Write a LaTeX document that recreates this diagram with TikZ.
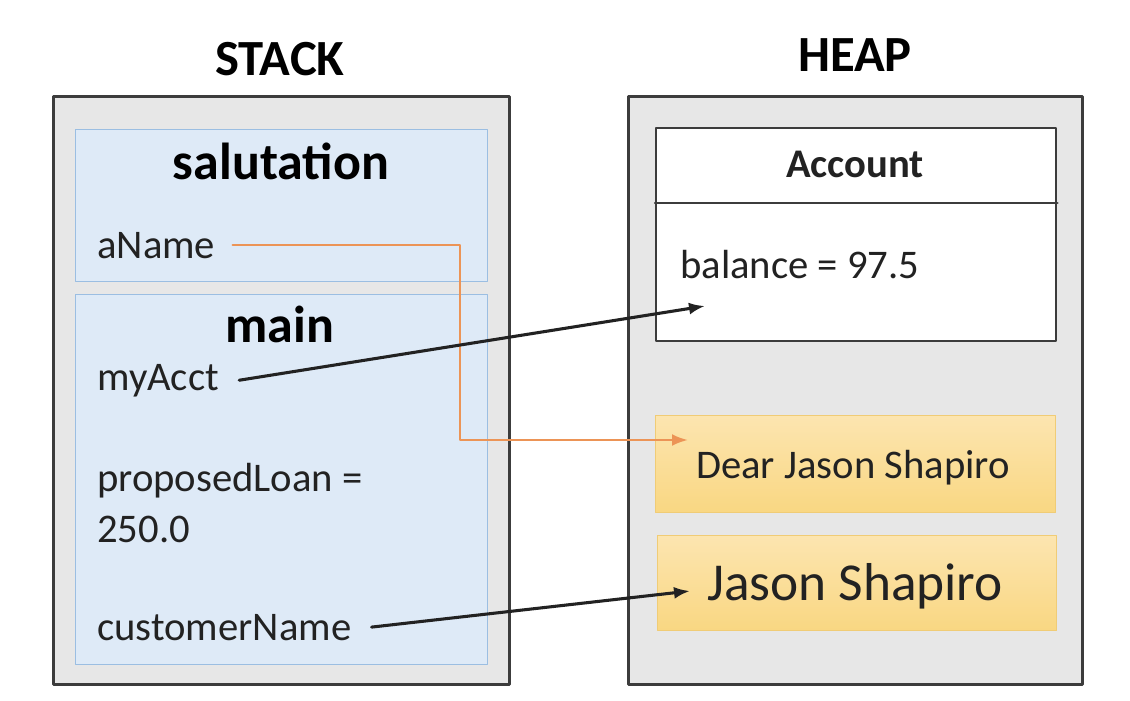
\documentclass[tikz,border=0pt]{standalone}
\usepackage{fontspec}
\setmainfont{Carlito}
\usetikzlibrary{arrows.meta,positioning}
\definecolor{frameGray}{RGB}{231,231,231}
\definecolor{edgeGray}{RGB}{60,60,60}
\definecolor{stackBlue}{RGB}{222,234,247}
\definecolor{stackEdge}{RGB}{155,190,226}
\definecolor{goldTop}{RGB}{252,229,176}
\definecolor{goldBot}{RGB}{249,215,130}
\definecolor{goldEdge}{RGB}{240,204,118}
\definecolor{refOrange}{RGB}{236,148,86}
\definecolor{inkGray}{RGB}{34,34,34}
\begin{document}
\begin{tikzpicture}[x=0.75pt,y=-0.75pt,line cap=round,line join=round,
  area/.style={draw=edgeGray,fill=frameGray,line width=2.2pt,inner sep=0pt,anchor=north west},
  frame/.style={draw=stackEdge,fill=stackBlue,line width=1pt,inner sep=0pt,anchor=north west},
  objbox/.style={draw=edgeGray,fill=white,line width=1.8pt,inner sep=0pt,anchor=north west},
  strbox/.style={draw=goldEdge,top color=goldTop,bottom color=goldBot,line width=0.8pt,inner sep=0pt,anchor=north west},
  heading/.style={anchor=base,inner sep=0pt,font=\fontsize{38}{44}\selectfont\bfseries},
  framename/.style={anchor=base,inner sep=0pt,font=\fontsize{39}{46}\selectfont\bfseries},
  var/.style={anchor=base west,inner sep=0pt,text=inkGray,font=\fontsize{30.5}{36}\selectfont},
  ref/.style={line width=2.3pt,-{Latex[length=12pt,width=9pt]}}]
\path[use as bounding box] (0,0) rectangle (1130,700);
\node[area,minimum width=342pt,minimum height=441pt] (stack) at (52,95) {};
\node[area,minimum width=340.5pt,minimum height=441pt] (heap) at (627,95) {};
\node[heading] (stackTitle) at (280,75) {STACK};
\node[heading] (heapTitle) at (855,71) {HEAP};
\node[frame,minimum width=309pt,minimum height=114pt] (salFrame) at (75,129) {};
\node[frame,minimum width=309pt,minimum height=277.5pt] (mainFrame) at (75,294) {};
\node[framename] (salName) at (281,179) {salutation};
\node[framename] (mainName) at (280,342) {main};
\node[var] (aName) at (97,258) {aName};
\node[var] (myAcct) at (97,390) {myAcct};
\node[var] (loan) at (97,491) {proposedLoan =};
\node[var] (loanVal) at (97,542) {250.0};
\node[var] (custName) at (97,640) {customerName};
\node[objbox,minimum width=300pt,minimum height=159.75pt] (acct) at (655,127) {};
\draw[edgeGray,line width=1.8pt] ([yshift=-57pt]acct.north west) -- ([yshift=-57pt]acct.north east);
\node[anchor=base,inner sep=0pt,text=inkGray,font=\fontsize{30.5}{36}\selectfont\bfseries] (acctName) at (855,177) {Account};
\node[var] (balance) at (680,278) {balance = 97.5};
\node[strbox,minimum width=300pt,minimum height=72.75pt] (dearBox) at (655,415) {};
\node[strbox,minimum width=299.25pt,minimum height=71.25pt] (jasonBox) at (657,535) {};
\node[var,anchor=base] (dearText) at (853,478) {Dear Jason Shapiro};
\node[anchor=base,inner sep=0pt,text=inkGray,font=\fontsize{40}{46}\selectfont] (jasonText) at (855,600) {Jason Shapiro};
\coordinate (acctIn) at (705,306);
\coordinate (turn) at (460,440);
\coordinate (dearIn) at (688,440);
\coordinate (jasonIn) at (690,591);
\draw[ref,refOrange,line width=2pt] ([xshift=13pt]aName.east) -| (turn) -- (dearIn);
\draw[ref,inkGray] ([xshift=15pt]myAcct.east) -- (acctIn);
\draw[ref,inkGray] ([xshift=15pt]custName.east) -- (jasonIn);
\end{tikzpicture}
\end{document}
